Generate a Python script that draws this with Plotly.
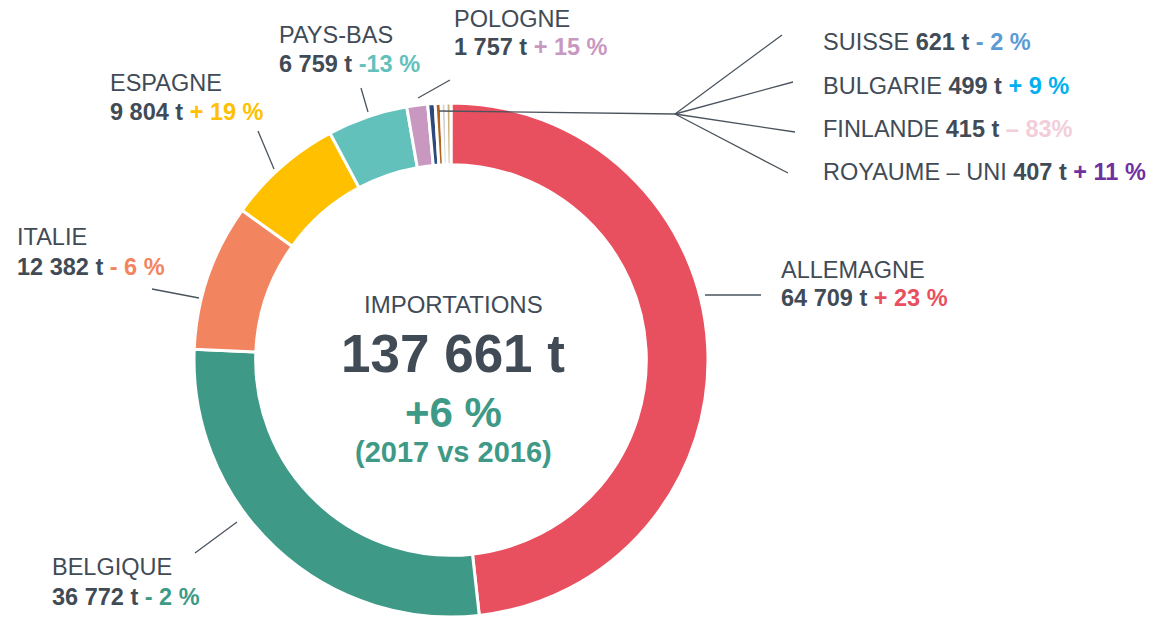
import plotly.graph_objects as go

W, H = 1155, 619

countries = ["ALLEMAGNE", "BELGIQUE", "ITALIE", "ESPAGNE", "PAYS-BAS", "POLOGNE",
             "SUISSE", "BULGARIE", "FINLANDE", "ROYAUME – UNI"]
tonnes = [64709, 36772, 12382, 9804, 6759, 1757, 621, 499, 415, 407]
tonnes_txt = ["64 709 t", "36 772 t", "12 382 t", "9 804 t", "6 759 t", "1 757 t",
              "621 t", "499 t", "415 t", "407 t"]
evolution = ["+ 23 %", "- 2 %", "- 6 %", "+ 19 %", "-13 %", "+ 15 %",
             "- 2 %", "+ 9 %", "– 83%", "+ 11 %"]
slice_colors = ["#E8505F", "#3E9A86", "#F38460", "#FFC000", "#63C1BC", "#C898C0",
                "#2E4A7D", "#B3611A", "#D0D0D0", "#C9B27C"]
evo_colors = ["#E8505F", "#3E9A86", "#F38460", "#FFC000", "#63C1BC", "#C898C0",
              "#5B9BD5", "#00B0F0", "#F2CEDA", "#7030A0"]

total_txt = "137 661 t"
total_evo = "+6 %"
period = "(2017 vs 2016)"

DARK = "#414B56"
FONT = "Liberation Sans, Arial, sans-serif"

def px(x):
    return x / W

def py(y):
    return 1 - y / H

fig = go.Figure()
fig.add_trace(go.Pie(
    labels=countries, values=tonnes, sort=False, direction="clockwise", rotation=0,
    hole=0.76, textinfo="none",
    marker=dict(colors=slice_colors, line=dict(color="white", width=3)),
    domain=dict(x=[px(194), px(708)], y=[py(617), py(103)]),
    showlegend=False,
))

annotations = []

def add_text(x, y, text, size=23.5, bold=False, color=DARK, anchor="left"):
    if bold:
        text = "<b>" + text + "</b>"
    annotations.append(dict(x=px(x), y=py(y), xref="paper", yref="paper", text=text,
                            showarrow=False, xanchor=anchor, yanchor="middle",
                            font=dict(family=FONT, size=size, color=color)))

def value_line(i):
    return ("<b>" + tonnes_txt[i] + "</b> <span style='color:" + evo_colors[i] + "'><b>"
            + evolution[i] + "</b></span>")

# two-line labels (name above, values below)
two_line_pos = {0: (779, 270, 298), 1: (50, 567, 597), 2: (15, 237, 267),
                3: (108, 83, 112), 4: (277, 35, 64), 5: (452, 19, 47)}
for i, (x, y1, y2) in two_line_pos.items():
    add_text(x, y1, countries[i])
    add_text(x, y2, value_line(i))

# one-line labels for small countries
one_line_y = {6: 42, 7: 86, 8: 129, 9: 172}
for i, y in one_line_y.items():
    add_text(821, y, countries[i] + " " + value_line(i))

# centre texts
add_text(453, 305, "IMPORTATIONS", size=24, anchor="center")
add_text(453, 353, total_txt, size=53, bold=True, anchor="center")
add_text(453, 412, total_evo, size=42, bold=True, color="#3E9A86", anchor="center")
add_text(453, 452, period, size=29, bold=True, color="#3E9A86", anchor="center")

# leader lines
leaders = [((705, 295), (761, 295)),
           ((195, 553), (237, 522)),
           ((152, 289), (199, 298)),
           ((258, 131), (274, 169)),
           ((361, 88), (368, 112)),
           ((418, 98), (450, 80)),
           ((439, 111), (675, 114)),
           ((675, 114), (782, 35)),
           ((675, 114), (793, 82)),
           ((675, 114), (795, 132)),
           ((675, 114), (788, 173))]
shapes = []
for (x0, y0), (x1, y1) in leaders:
    shapes.append(dict(type="line", xref="paper", yref="paper",
                       x0=px(x0), y0=py(y0), x1=px(x1), y1=py(y1),
                       line=dict(color="#4A545E", width=1.3)))

fig.update_layout(width=W, height=H, margin=dict(l=0, r=0, t=0, b=0),
                  paper_bgcolor="white", plot_bgcolor="white",
                  annotations=annotations, shapes=shapes,
                  font=dict(family=FONT, color=DARK))

fig.write_html("out.html", config={"displayModeBar": False},
               post_script="document.body.style.margin='0';document.body.style.overflow='hidden';")
